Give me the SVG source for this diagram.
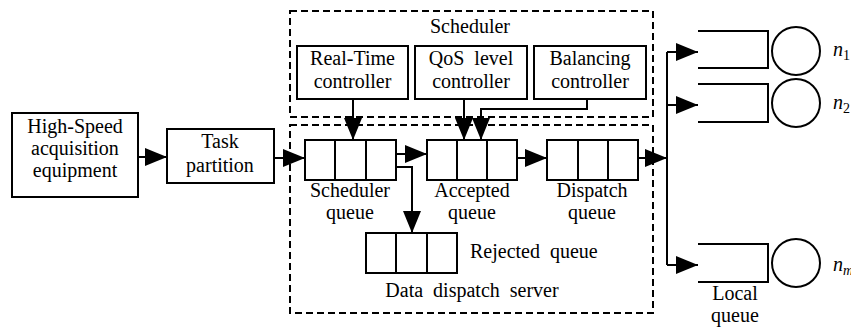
<svg xmlns="http://www.w3.org/2000/svg" width="851" height="327" viewBox="0 0 851 327" font-family="Liberation Serif, DejaVu Serif, serif" font-size="20">
<defs>
<marker id="ah" markerUnits="userSpaceOnUse" markerWidth="22" markerHeight="18" refX="22" refY="9" orient="auto" viewBox="0 0 22 18">
<path d="M0,0 L22,9 L0,18 z" fill="#000"/>
</marker>
</defs>
<style>
.c{text-anchor:middle}
.b{fill:#fff;stroke:#000;stroke-width:2}
.d{fill:none;stroke:#000;stroke-width:2;stroke-dasharray:7 4}
.l{fill:none;stroke:#000;stroke-width:2}
.a{fill:none;stroke:#000;stroke-width:2;marker-end:url(#ah)}
.i{font-style:italic}
</style>
<rect width="851" height="327" fill="#fff"/>

<g id="scheduler">
<rect class="d" x="290" y="11" width="363" height="106"/>
<text class="c" x="470" y="33">Scheduler</text>
</g>
<g id="dds">
<rect class="d" x="290" y="125" width="363" height="188"/>
<text class="c" x="472" y="297" word-spacing="5">Data dispatch server</text>
</g>

<g id="hs">
<rect class="b" x="12" y="113" width="126" height="84"/>
<text class="c" x="75" y="133">High-Speed</text>
<text class="c" x="75" y="155">acquisition</text>
<text class="c" x="75" y="177">equipment</text>
</g>
<g id="task">
<rect class="b" x="167" y="129" width="107" height="54"/>
<text class="c" x="220" y="148">Task</text>
<text class="c" x="220" y="172">partition</text>
</g>

<g id="rt">
<rect class="b" x="297" y="46" width="111" height="53"/>
<text class="c" x="352.5" y="65">Real-Time</text>
<text class="c" x="352.5" y="88">controller</text>
</g>
<g id="qos">
<rect class="b" x="415" y="46" width="112" height="53"/>
<text class="c" x="471" y="65" word-spacing="5">QoS level</text>
<text class="c" x="471" y="88">controller</text>
</g>
<g id="bal">
<rect class="b" x="534" y="46" width="112" height="53"/>
<text class="c" x="590" y="65">Balancing</text>
<text class="c" x="590" y="88">controller</text>
</g>

<g id="sq">
<rect class="b" x="305" y="140" width="91" height="40"/>
<path class="l" d="M335,140 V180 M366,140 V180"/>
<text class="c" x="350" y="197">Scheduler</text>
<text class="c" x="350" y="219">queue</text>
</g>
<g id="aq">
<rect class="b" x="427" y="140" width="90" height="40"/>
<path class="l" d="M457,140 V180 M487,140 V180"/>
<text class="c" x="472" y="197">Accepted</text>
<text class="c" x="472" y="219">queue</text>
</g>
<g id="dq">
<rect class="b" x="547" y="140" width="91" height="40"/>
<path class="l" d="M578,140 V180 M608,140 V180"/>
<text class="c" x="592" y="197">Dispatch</text>
<text class="c" x="592" y="219">queue</text>
</g>
<g id="rq">
<rect class="b" x="366" y="233" width="91" height="40"/>
<path class="l" d="M396,233 V273 M427,233 V273"/>
<text x="470" y="258" word-spacing="5">Rejected queue</text>
</g>

<g id="n1">
<path class="l" d="M698,31 H768 V68 H698"/>
<circle class="l" cx="796" cy="51" r="24"/>
<text class="i" x="833" y="56">n<tspan font-size="14" font-style="normal" dy="4">1</tspan></text>
</g>
<g id="n2">
<path class="l" d="M698,84 H768 V122 H698"/>
<circle class="l" cx="796" cy="103" r="24"/>
<text class="i" x="833" y="109">n<tspan font-size="14" font-style="normal" dy="4">2</tspan></text>
</g>
<g id="nm">
<path class="l" d="M698,244 H768 V282 H698"/>
<circle class="l" cx="796" cy="263" r="24"/>
<text class="i" x="833" y="271">n<tspan font-size="14" dy="4">m</tspan></text>
<text class="c" x="735" y="300">Local</text>
<text class="c" x="735" y="322">queue</text>
</g>

<g id="connectors">
<path class="a" d="M138,157 H167"/>
<path class="a" d="M274,158 H305"/>
<path class="a" d="M396,154 H427"/>
<path class="a" d="M396,167 H412 V233"/>
<path class="a" d="M517,158 H547"/>
<path class="a" d="M638,158 H667"/>
<path class="l" d="M667,52 V265"/>
<path class="a" d="M667,52 H698"/>
<path class="a" d="M667,105 H698"/>
<path class="a" d="M667,265 H698"/>
<path class="a" d="M353,99 V140"/>
<path class="a" d="M464,99 V140"/>
<path class="a" d="M587,99 V109 H481 V140"/>
</g>
</svg>
